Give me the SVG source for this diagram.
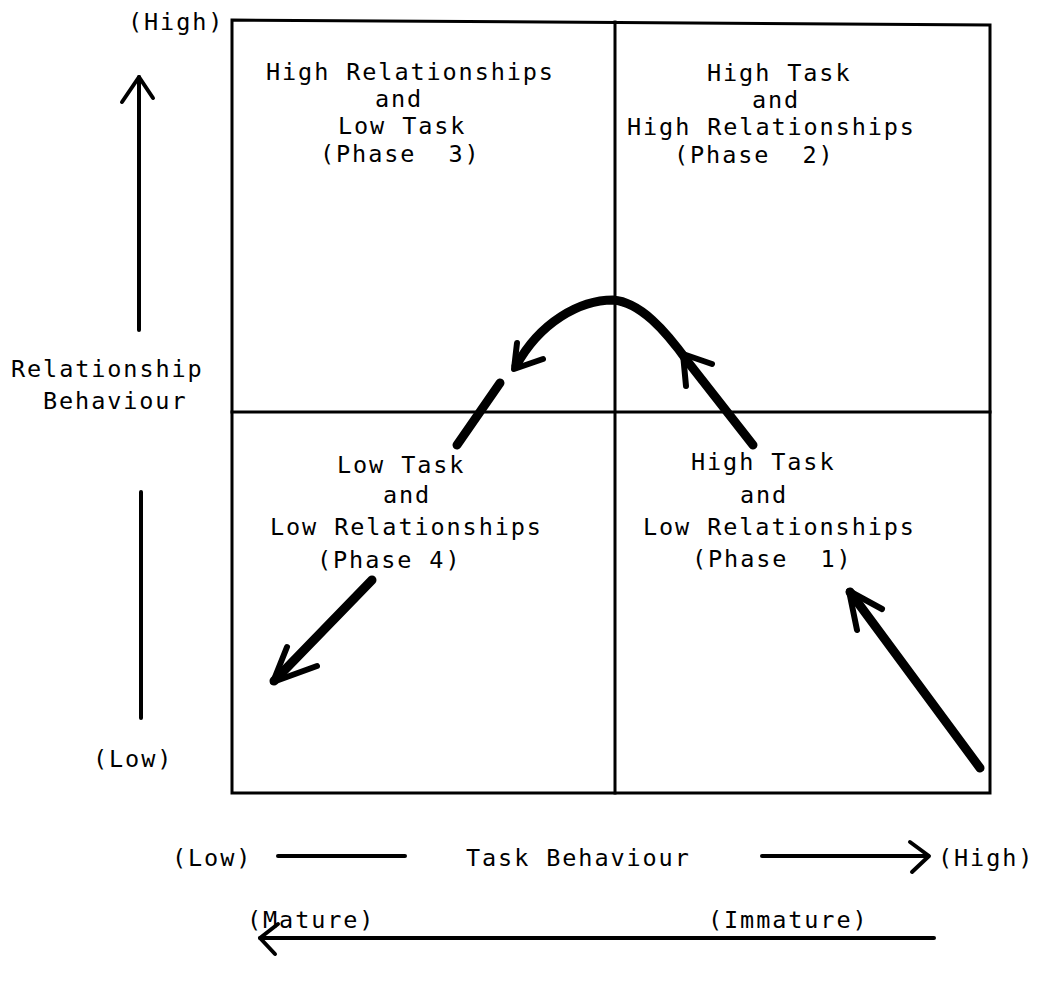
<svg xmlns="http://www.w3.org/2000/svg" width="1051" height="989" viewBox="0 0 1051 989">
<style>
text{font-family:"DejaVu Sans Mono","Liberation Mono",monospace;font-size:23.5px;letter-spacing:1.9px;fill:#000}
.frame{fill:none;stroke:#000;stroke-width:3;stroke-linecap:square}
.axis{fill:none;stroke:#000;stroke-width:4;stroke-linecap:round;stroke-linejoin:round}
.hand{fill:none;stroke:#000;stroke-width:9;stroke-linecap:round;stroke-linejoin:round}
.head{fill:none;stroke:#000;stroke-width:6;stroke-linecap:round;stroke-linejoin:round}
</style>
<rect width="1051" height="989" fill="#fff"/>
<g id="grid">
<path class="frame" d="M232 20 L990 25 L990 793 L232 793 Z"/>
<path class="frame" d="M615 22 L615 793"/>
<path class="frame" d="M232 412 L990 412"/>
</g>
<g id="q3">
<text x="266" y="80" xml:space="preserve">High Relationships</text>
<text x="375" y="107" xml:space="preserve">and</text>
<text x="338" y="134" xml:space="preserve">Low Task</text>
<text x="320" y="162" xml:space="preserve">(Phase  3)</text>
</g>
<g id="q2">
<text x="707" y="81" xml:space="preserve">High Task</text>
<text x="752" y="108" xml:space="preserve">and</text>
<text x="627" y="135" xml:space="preserve">High Relationships</text>
<text x="674" y="163" xml:space="preserve">(Phase  2)</text>
</g>
<g id="q4">
<text x="337" y="473" xml:space="preserve">Low Task</text>
<text x="383" y="503" xml:space="preserve">and</text>
<text x="270" y="535" xml:space="preserve">Low Relationships</text>
<text x="317" y="568" xml:space="preserve">(Phase 4)</text>
</g>
<g id="q1">
<text x="691" y="470" xml:space="preserve">High Task</text>
<text x="740" y="503" xml:space="preserve">and</text>
<text x="643" y="535" xml:space="preserve">Low Relationships</text>
<text x="692" y="567" xml:space="preserve">(Phase  1)</text>
</g>
<g id="y-axis">
<text x="128" y="30">(High)</text>
<text x="11" y="377">Relationship</text>
<text x="43" y="409">Behaviour</text>
<text x="93" y="767">(Low)</text>
</g>
<g id="x-axis">
<text x="172" y="866">(Low)</text>
<text x="466" y="866">Task Behaviour</text>
<text x="938" y="866">(High)</text>
<text x="247" y="928">(Mature)</text>
<text x="708" y="928">(Immature)</text>
</g>
<g id="connectors">
<path class="axis" d="M139 330 L139 77"/>
<path class="axis" d="M122 102 L139 77 L153 98"/>
<path class="axis" d="M141 492 L141 718"/>
<path class="axis" d="M278 856 L405 856"/>
<path class="axis" d="M762 856 L928 856"/>
<path class="axis" d="M910 842 L929 856 L912 872"/>
<path class="axis" d="M934 938 L260 938"/>
<path class="axis" d="M278 924 L260 938 L275 954"/>
<path class="hand" d="M753 445 L688 362 C665 330 640 302 613 300 C580 300 540 322 516 366"/>
<path class="head" d="M686 386 L683 354 L712 364"/>
<path class="head" d="M517 343 L514 369 L543 359"/>
<path class="hand" d="M457 445 L500 383"/>
<path class="hand" d="M372 580 L274 681"/>
<path class="head" d="M287 647 L273 682 L317 666"/>
<path class="hand" d="M980 768 L850 592"/>
<path class="head" d="M857 630 L849 591 L882 609"/>
</g>
</svg>
